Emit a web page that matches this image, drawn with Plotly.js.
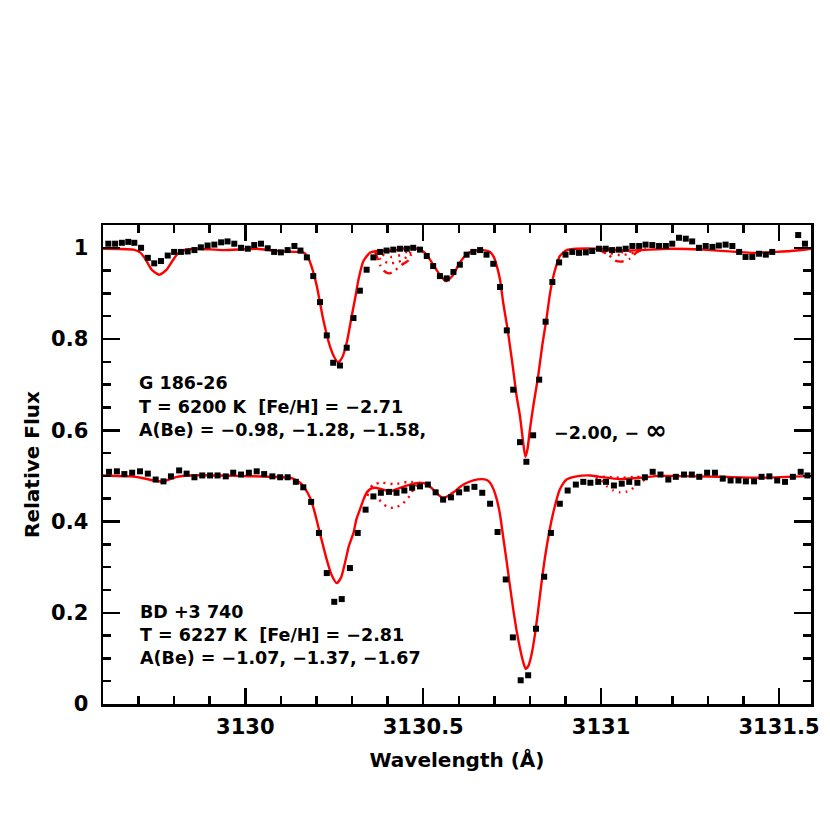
<!DOCTYPE html>
<html>
<head>
<meta charset="utf-8">
<script src="https://cdn.plot.ly/plotly-3.0.1.min.js"></script>
<style>html,body{margin:0;padding:0;background:#fff;}#chart{width:830px;height:830px;}</style>
</head>
<body>
<div id="chart"></div>
<script>
// ---- Observed spectrum: G 186-26 (upper) ----
const upperWave = [3129.615,3129.634,3129.653,3129.671,3129.688,3129.707,3129.726,3129.744,3129.763,3129.782,
3129.800,3129.819,3129.838,3129.857,3129.875,3129.894,3129.913,3129.932,3129.950,3129.969,
3129.988,3130.007,3130.025,3130.044,3130.063,3130.081,3130.100,3130.119,3130.138,3130.155,
3130.173,3130.191,3130.210,3130.229,3130.247,3130.266,3130.285,3130.304,3130.322,3130.341,
3130.360,3130.379,3130.397,3130.416,3130.435,3130.454,3130.472,3130.491,3130.510,3130.528,
3130.547,3130.566,3130.585,3130.603,3130.622,3130.641,3130.660,3130.678,3130.697,3130.716,
3130.735,3130.753,3130.772,3130.790,3130.809,3130.826,3130.844,3130.863,3130.882,3130.900,
3130.919,3130.938,3130.957,3130.975,3130.994,3131.013,3131.031,3131.050,3131.069,3131.088,
3131.107,3131.125,3131.144,3131.163,3131.182,3131.200,3131.219,3131.238,3131.256,3131.275,
3131.294,3131.313,3131.331,3131.350,3131.369,3131.388,3131.406,3131.425,3131.444,3131.463,3131.481,
3131.554,3131.573];
const upperFlux = [1.009,1.009,1.011,1.013,1.011,1.000,0.978,0.966,0.971,0.983,
0.991,0.991,0.992,0.995,1.001,1.005,1.007,1.012,1.014,1.009,
1.000,0.998,1.006,1.009,0.999,0.991,0.990,0.995,1.004,0.994,
0.979,0.938,0.881,0.808,0.748,0.742,0.781,0.846,0.906,0.952,
0.979,0.991,0.994,0.996,0.998,0.998,1.000,0.996,0.982,0.960,
0.938,0.933,0.947,0.963,0.985,0.991,0.995,0.985,0.965,0.914,
0.819,0.689,0.574,0.531,0.589,0.711,0.838,0.925,0.968,0.985,
0.991,0.989,0.990,0.993,0.998,0.998,0.995,0.996,0.998,1.004,
1.004,1.007,1.006,1.004,1.004,1.009,1.022,1.020,1.014,1.000,
1.004,1.002,1.005,1.007,1.004,0.991,0.980,0.980,0.987,0.985,0.991,
1.028,1.009];

// ---- Observed spectrum: BD +3 740 (lower) ----
const lowerWave = [3129.617,3129.639,3129.660,3129.682,3129.704,3129.726,3129.748,3129.770,3129.791,3129.814,
3129.835,3129.857,3129.879,3129.901,3129.922,3129.945,3129.966,3129.988,3130.010,3130.032,
3130.053,3130.076,3130.098,3130.119,3130.142,3130.163,3130.185,3130.207,3130.229,3130.250,
3130.271,3130.294,3130.316,3130.338,3130.360,3130.381,3130.404,3130.425,3130.447,3130.469,
3130.491,3130.513,3130.535,3130.556,3130.578,3130.601,3130.622,3130.644,3130.666,3130.688,
3130.709,3130.732,3130.752,3130.774,3130.795,3130.817,3130.840,3130.859,3130.884,3130.906,
3130.929,3130.950,3130.970,3130.992,3131.014,3131.036,3131.058,3131.079,3131.102,3131.123,
3131.145,3131.167,3131.189,3131.210,3131.233,3131.255,3131.276,3131.298,3131.320,3131.342,
3131.364,3131.386,3131.407,3131.430,3131.451,3131.473,3131.495,3131.517,3131.539,3131.561,3131.580];
const lowerFlux = [0.509,0.510,0.504,0.507,0.510,0.505,0.492,0.488,0.499,0.512,
0.505,0.497,0.501,0.501,0.501,0.499,0.507,0.503,0.507,0.510,
0.504,0.499,0.497,0.497,0.487,0.475,0.443,0.375,0.287,0.224,
0.230,0.298,0.375,0.426,0.455,0.463,0.465,0.463,0.468,0.474,
0.477,0.481,0.464,0.448,0.453,0.464,0.472,0.476,0.463,0.439,
0.377,0.273,0.146,0.052,0.063,0.165,0.279,0.375,0.439,0.468,
0.481,0.487,0.485,0.487,0.487,0.479,0.483,0.487,0.485,0.497,
0.509,0.503,0.492,0.498,0.503,0.503,0.498,0.507,0.507,0.494,
0.490,0.490,0.488,0.488,0.498,0.499,0.490,0.487,0.498,0.509,0.501];

// ---- Synthetic spectra (solid) ----
const upperModelWave = [3129.600,3129.685,3129.704,3129.718,3129.737,3129.758,3129.779,3129.794,3129.811,3129.830,
3129.863,3129.938,3130.032,3130.088,3130.144,3130.163,3130.177,3130.189,3130.201,3130.219,
3130.238,3130.251,3130.261,3130.272,3130.285,3130.299,3130.310,3130.318,3130.332,3130.350,
3130.369,3130.415,3130.463,3130.491,3130.505,3130.519,3130.533,3130.547,3130.564,3130.585,
3130.598,3130.613,3130.626,3130.641,3130.669,3130.688,3130.699,3130.707,3130.716,3130.725,
3130.735,3130.744,3130.753,3130.762,3130.772,3130.780,3130.787,3130.793,3130.800,3130.810,
3130.823,3130.835,3130.847,3130.856,3130.866,3130.875,3130.884,3130.903,3130.931,3130.997,
3131.067,3131.194,3131.287,3131.381,3131.428,3131.493,3131.550,3131.590];
const upperModelFlux = [0.998,0.996,0.990,0.977,0.952,0.941,0.952,0.970,0.988,0.995,
0.998,0.995,0.998,0.993,0.991,0.990,0.978,0.952,0.916,0.843,
0.784,0.759,0.749,0.759,0.792,0.850,0.895,0.930,0.971,0.989,
0.993,0.994,1.000,0.996,0.989,0.974,0.957,0.941,0.927,0.941,
0.961,0.978,0.988,0.993,0.995,0.991,0.979,0.960,0.930,0.879,
0.832,0.784,0.733,0.678,0.631,0.580,0.542,0.558,0.602,0.656,
0.718,0.788,0.847,0.898,0.938,0.963,0.982,0.995,0.998,0.998,
0.994,0.998,0.996,0.991,0.989,0.991,0.994,0.998];

const lowerModelWave = [3129.600,3129.676,3129.707,3129.741,3129.770,3129.807,3129.845,3129.985,3130.126,3130.140,
3130.154,3130.168,3130.182,3130.193,3130.205,3130.217,3130.229,3130.242,3130.257,3130.269,
3130.280,3130.291,3130.304,3130.312,3130.322,3130.332,3130.341,3130.353,3130.364,3130.383,
3130.407,3130.435,3130.463,3130.491,3130.510,3130.528,3130.542,3130.556,3130.570,3130.585,
3130.613,3130.641,3130.664,3130.679,3130.688,3130.698,3130.707,3130.716,3130.725,3130.735,
3130.744,3130.753,3130.762,3130.772,3130.780,3130.788,3130.796,3130.805,3130.814,3130.823,
3130.832,3130.842,3130.854,3130.866,3130.884,3130.903,3130.931,3130.969,3130.997,3131.053,
3131.109,3131.166,3131.334,3131.447,3131.590];
const lowerModelFlux = [0.501,0.499,0.496,0.490,0.488,0.498,0.501,0.500,0.496,0.492,
0.485,0.472,0.452,0.426,0.389,0.352,0.316,0.284,0.265,0.277,
0.309,0.346,0.375,0.404,0.426,0.448,0.463,0.472,0.474,0.471,
0.466,0.474,0.481,0.485,0.482,0.470,0.459,0.452,0.456,0.464,
0.481,0.490,0.493,0.491,0.485,0.470,0.448,0.415,0.365,0.310,
0.258,0.208,0.163,0.122,0.095,0.077,0.084,0.110,0.152,0.205,
0.262,0.320,0.376,0.421,0.470,0.492,0.499,0.501,0.498,0.493,
0.496,0.500,0.498,0.496,0.500];

// ---- Synthetic spectra with other A(Be) values (only where they depart from the solid curve) ----
const upperBeAWave = [3130.365,3130.379,3130.392,3130.405,3130.420,3130.440,3130.458,3130.470,null,
3130.990,3131.020,3131.040,3131.060,3131.080,3131.100,3131.120];
const upperBeAFlux = [0.992,0.962,0.948,0.944,0.950,0.963,0.972,0.995,null,
0.997,0.985,0.972,0.970,0.976,0.990,0.997];
const upperBeBWave = [3130.365,3130.380,3130.400,3130.420,3130.440,3130.460,3130.470,null,
3130.990,3131.025,3131.060,3131.095,3131.125];
const upperBeBFlux = [0.990,0.975,0.967,0.967,0.972,0.985,0.998,null,
0.997,0.988,0.984,0.990,0.998];
const upperBeCWave = [3130.365,3130.385,3130.410,3130.440,3130.468,null,
3130.990,3131.030,3131.060,3131.095,3131.125];
const upperBeCFlux = [0.992,0.985,0.980,0.985,0.999,null,
0.997,0.992,0.990,0.993,0.998];

const lowerBeHighWave = [3130.341,3130.360,3130.383,3130.420,3130.456,3130.485,null,
3130.985,3131.030,3131.058,3131.095,3131.130];
const lowerBeHighFlux = [0.463,0.481,0.485,0.482,0.487,0.485,null,
0.499,0.497,0.496,0.498,0.497];
const lowerBeLowWave = [3130.341,3130.369,3130.397,3130.416,3130.439,3130.458,3130.472,3130.486,null,
3130.985,3131.000,3131.015,3131.034,3131.053,3131.070,3131.086,3131.100,3131.114,3131.135];
const lowerBeLowFlux = [0.459,0.452,0.433,0.430,0.437,0.452,0.470,0.485,null,
0.497,0.492,0.478,0.468,0.464,0.465,0.471,0.481,0.488,0.496];

// ---- Text ----
const upperLabels = ["G 186-26", "T = 6200 K \u00a0[Fe/H] = \u22122.71", "A(Be) = \u22120.98, \u22121.28, \u22121.58,"];
const upperLabelExtra = "\u22122.00, \u2212 <span style=\"font-size:26px\">\u221e</span>";
const lowerLabels = ["BD +3 740", "T = 6227 K \u00a0[Fe/H] = \u22122.81", "A(Be) = \u22121.07, \u22121.37, \u22121.67"];

const RED = "#ff0000";
const FONT = "DejaVu Sans";
const modelLine = {color: RED, width: 2.4, shape: "spline", smoothing: 0.6};

const traces = [
  {x: upperModelWave, y: upperModelFlux, mode: "lines", line: modelLine},
  {x: upperBeAWave, y: upperBeAFlux, mode: "lines", line: {color: RED, width: 2.4, dash: "9px,5px,2px,5px", shape: "spline", smoothing: 0.6}},
  {x: upperBeBWave, y: upperBeBFlux, mode: "lines", line: {color: RED, width: 2.4, dash: "2px,5px", shape: "spline", smoothing: 0.6}},
  {x: upperBeCWave, y: upperBeCFlux, mode: "lines", line: {color: RED, width: 2.4, dash: "2px,6px", shape: "spline", smoothing: 0.6}},
  {x: lowerModelWave, y: lowerModelFlux, mode: "lines", line: modelLine},
  {x: lowerBeHighWave, y: lowerBeHighFlux, mode: "lines", line: {color: RED, width: 2.4, dash: "2px,5px", shape: "spline", smoothing: 0.6}},
  {x: lowerBeLowWave, y: lowerBeLowFlux, mode: "lines", line: {color: RED, width: 2.4, dash: "2px,5px", shape: "spline", smoothing: 0.6}},
  {x: upperWave, y: upperFlux, mode: "markers", marker: {symbol: "square", size: 6, color: "#000"}},
  {x: lowerWave, y: lowerFlux, mode: "markers", marker: {symbol: "square", size: 6, color: "#000"}}
];

const labelFont = {family: FONT, size: 17.5, color: "#000", weight: "bold"};
const annotations = [];
const upperY = [0.703, 0.652, 0.601];
const lowerY = [0.201, 0.152, 0.101];
upperLabels.forEach((t, i) => annotations.push({x: 3129.696, y: upperY[i], xref: "x", yref: "y", text: t, showarrow: false, xanchor: "left", yanchor: "middle", font: labelFont}));
annotations.push({x: 3130.862, y: upperY[2], xref: "x", yref: "y", text: upperLabelExtra, showarrow: false, xanchor: "left", yanchor: "middle", font: labelFont});
lowerLabels.forEach((t, i) => annotations.push({x: 3129.699, y: lowerY[i], xref: "x", yref: "y", text: t, showarrow: false, xanchor: "left", yanchor: "middle", font: labelFont}));

const tickFont = {family: FONT, size: 21, color: "#000", weight: "bold"};
const axisCommon = {
  showline: true, linecolor: "#000", linewidth: 2.5, mirror: "ticks",
  ticks: "inside", tickwidth: 2.5, tickcolor: "#000",
  showgrid: false, zeroline: false, tickfont: tickFont, tickformat: "~g"
};

const layout = {
  width: 830, height: 830,
  margin: {l: 103, r: 19, t: 225, b: 126},
  paper_bgcolor: "#fff", plot_bgcolor: "#fff",
  showlegend: false,
  xaxis: Object.assign({}, axisCommon, {
    range: [3129.6, 3131.59], tick0: 3130, dtick: 0.5, ticklen: 16, ticklabelstandoff: 2,
    minor: {ticks: "inside", tick0: 3130, dtick: 0.1, ticklen: 8, tickwidth: 2.5, tickcolor: "#000", showgrid: false},
    title: {text: "Wavelength (\u00c5)", font: {family: FONT, size: 20, color: "#000", weight: "bold"}, standoff: 16}
  }),
  yaxis: Object.assign({}, axisCommon, {
    range: [0, 1.05], tick0: 0, dtick: 0.2, ticklen: 17, ticklabelstandoff: 8,
    minor: {ticks: "inside", tick0: 0, dtick: 0.05, ticklen: 8, tickwidth: 2.5, tickcolor: "#000", showgrid: false},
    title: {text: "Relative Flux", font: {family: FONT, size: 20, color: "#000", weight: "bold"}, standoff: 6}
  }),
  annotations: annotations
};

Plotly.newPlot("chart", traces, layout, {displayModeBar: false, staticPlot: true});
</script>
</body>
</html>
